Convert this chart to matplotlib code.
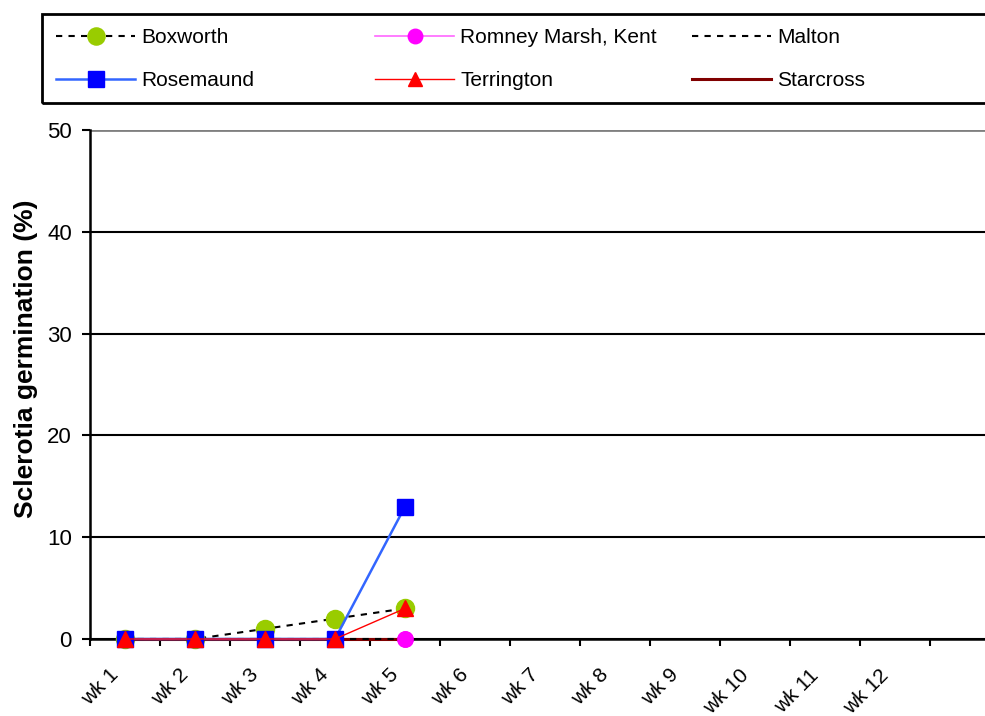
import numpy as np
import matplotlib
matplotlib.use('Agg')
import matplotlib.pyplot as plt
import matplotlib.transforms as mtransforms
from matplotlib.patches import Rectangle

# dados
weeks = ['wk 1', 'wk 2', 'wk 3', 'wk 4', 'wk 5', 'wk 6',
         'wk 7', 'wk 8', 'wk 9', 'wk 10', 'wk 11', 'wk 12']
boxworth = [0, 0, 1, 2, 3]
romney = [0, 0, 0, 0, 0]
malton = [0, 0, 0, 0, 0]
rosemaund = [0, 0, 0, 0, 13]
terrington = [0, 0, 0, 0, 3]
starcross = [0, 0, 0, 0, 0]

plt.rcParams['font.family'] = ['Liberation Sans', 'DejaVu Sans']

fig = plt.figure(figsize=(9.85, 7.16), dpi=100)
W, H = 985, 716
ax = fig.add_axes([90 / W, 1 - 639 / H, 1 - 90 / W, (639 - 130) / H])

x = np.arange(1, len(boxworth) + 1)

l_rom, = ax.plot(x, romney, color='#ff66ff', lw=1.2, marker='o', ms=11,
                 mfc='#ff00ff', mec='#ff00ff', zorder=2, label='Romney Marsh, Kent')
l_star, = ax.plot(x, starcross, color='#800000', lw=2.2, zorder=3.2, label='Starcross')
l_malt, = ax.plot(x, malton, color='black', lw=1.5, ls=(0, (3, 3)), zorder=3.3, label='Malton')
l_box, = ax.plot(x, boxworth, color='black', lw=1.5, ls=(0, (3, 3)), marker='o', ms=13,
                 mfc='#99cc00', mec='#99cc00', zorder=3, label='Boxworth')
# marcadores rosa por cima da linha vermelho-escura
m_rom, = ax.plot(x, romney, ls='none', marker='o', ms=11,
                 mfc='#ff00ff', mec='#ff00ff', zorder=3.4)
l_rose, = ax.plot(x, rosemaund, color='#3366ff', lw=1.8, marker='s', ms=12,
                  mfc='#0000ff', mec='#0000ff', zorder=3.5, label='Rosemaund')
l_ter, = ax.plot(x, terrington, color='#ff0000', lw=1.0, marker='^', ms=11,
                 mfc='#ff0000', mec='#ff0000', zorder=3.6, label='Terrington')
for ln in [l_rom, l_star, l_malt, l_box, m_rom, l_rose, l_ter]:
    ln.set_clip_on(False)

ax.set_yticks(range(0, 51, 10))
ax.tick_params(axis='y', labelsize=16, length=6, width=1.5, pad=7, direction='out')

ax.set_xticks(np.arange(0.5, 13, 1))
ax.set_xticklabels([])
ax.tick_params(axis='x', which='major', length=5, width=1.5, direction='out')
ax.set_xticks(np.arange(1, len(weeks) + 1), minor=True)
ax.set_xticklabels(weeks, minor=True, rotation=45, ha='right', va='top',
                   rotation_mode='anchor', fontsize=15)
ax.tick_params(axis='x', which='minor', length=0, pad=19)
offset = mtransforms.ScaledTranslation(-16 / 100, 0, fig.dpi_scale_trans)
for lab in ax.get_xticklabels(minor=True):
    lab.set_transform(lab.get_transform() + offset)

# limites depois dos ticks (set_xticks alarga a vista)
ax.set_ylim(0, 50)
ax.set_xlim(0.5, 0.5 + (W - 90) / 70)

ax.grid(axis='y', color='black', lw=1.5)
ax.yaxis.get_gridlines()[-1].set_color('#808080')
ax.yaxis.get_gridlines()[-1].set_linewidth(2)
for s in ['top', 'right']:
    ax.spines[s].set_visible(False)
ax.spines['left'].set_linewidth(1.8)
ax.spines['bottom'].set_linewidth(1.8)
ax.set_axisbelow(True)

ax.set_ylabel('Sclerotia germination (%)', fontsize=19, fontweight='bold')
ax.yaxis.set_label_coords(-0.058, 0.55)

# legenda em tres colunas, com moldura propria
fig.patches.append(Rectangle((42 / W, 1 - 103 / H), 1.0, 89 / H, transform=fig.transFigure,
                             fill=False, edgecolor='black', lw=2))
cols = [([l_box, l_rose], 56), ([l_rom, l_ter], 375), ([l_malt, l_star], 692)]
for handles, xpix in cols:
    fig.legend(handles=handles, loc='center left', bbox_to_anchor=(xpix / W, 1 - 59 / H),
               frameon=False, fontsize=15, handlelength=3.8, handletextpad=0.3,
               labelspacing=1.15, borderpad=0, borderaxespad=0, markerscale=0.95)

fig.savefig('out.png', dpi=100)
